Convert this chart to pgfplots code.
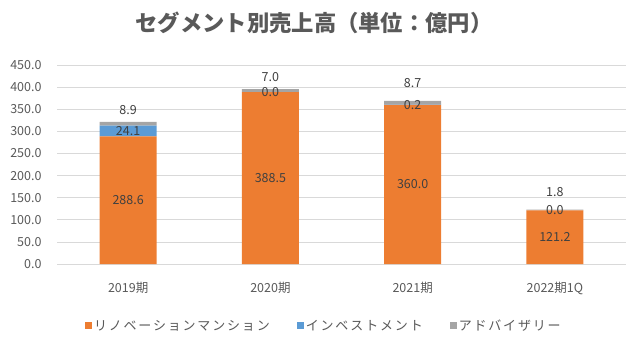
\documentclass[border=0pt]{standalone}
\usepackage{fontspec}
\setmainfont{Noto Sans CJK JP}
\newfontfamily\legfont[LetterSpace=14]{Noto Sans CJK JP}
\usepackage{pgfplots}
\pgfplotsset{compat=1.18}
\usepackage{pgfplotstable}
\definecolor{orA}{HTML}{ED7D31}
\definecolor{blA}{HTML}{5B9BD5}
\definecolor{grA}{HTML}{A5A5A5}
\definecolor{txA}{HTML}{595959}
\definecolor{lbA}{HTML}{404040}
\definecolor{gdA}{HTML}{D9D9D9}
\pgfplotstableread{
x reno inv adv off
0 288.6 24.1 8.9 12
1 388.5 0.0 7.0 12
2 360.0 0.2 8.7 18
3 121.2 0.0 1.8 18
}\data
\pgfplotsset{
  common/.style={
    at={(57bp,81bp)}, anchor=south west,
    scale only axis, width=569bp, height=199bp,
    xmin=-0.5, xmax=3.5, ymin=0, ymax=450,
  },
  lbl/.style={
    draw=none, mark=none, point meta=explicit, nodes near coords,
    every node near coord/.append style={anchor=center,
      font=\fontsize{12.5bp}{14bp}\selectfont, text=lbA,
      /pgf/number format/fixed, /pgf/number format/zerofill, /pgf/number format/precision=1,
      /pgf/number format/assume math mode=true},
  },
}
\begin{document}
\begin{tikzpicture}
\path[use as bounding box] (0,0) rectangle (640bp,345bp);
\node[font=\bfseries\fontsize{22.3bp}{25bp}\selectfont, text=txA] at (314bp,322bp) {セグメント別売上高（単位：億円）};
\begin{axis}[
  common,
  ybar stacked, bar width=0.4,
  ytick={0,50,...,450},
  xtick={0,1,2,3},
  xticklabels={2019期,2020期,2021期,2022期1Q},
  yticklabel={\pgfmathprintnumber[fixed,zerofill,precision=1]{\tick}},
  /pgf/number format/assume math mode=true,
  ymajorgrids, grid style={color=gdA, line width=0.75bp},
  axis line style={draw=none},
  major tick length=0,
  tick label style={font=\fontsize{12.5bp}{14bp}\selectfont, text=txA},
  yticklabel style={xshift=-12bp},
  xticklabel style={yshift=-15bp},
  clip=false,
  legend style={at={(0.469,-0.26)}, anchor=north, draw=none, legend columns=3,
     font=\legfont\fontsize{13bp}{15bp}\selectfont, text=txA,
     /tikz/every even column/.append style={column sep=25bp}},
  legend image code/.code={\fill[#1] (0bp,-3.5bp) rectangle (7bp,3.5bp);},
]
\addplot[fill=orA, draw=none] table[x=x,y=reno]{\data};
\addplot[fill=blA, draw=none] table[x=x,y=inv]{\data};
\addplot[fill=grA, draw=none] table[x=x,y=adv]{\data};
\legend{リノベーションマンション,インベストメント,アドバイザリー}
\end{axis}
\begin{axis}[common, hide axis, clip=false]
\addplot[lbl] table[x=x, y expr=\thisrow{reno}/2, meta=reno]{\data};
\addplot[lbl] table[x=x, y expr=\thisrow{reno}+\thisrow{inv}/2, meta=inv]{\data};
\addplot[lbl, visualization depends on={\thisrow{off}\as\off},
  every node near coord/.append style={yshift=\off pt}]
  table[x=x, y expr=\thisrow{reno}+\thisrow{inv}+\thisrow{adv}, meta=adv]{\data};
\end{axis}
\end{tikzpicture}
\end{document}
